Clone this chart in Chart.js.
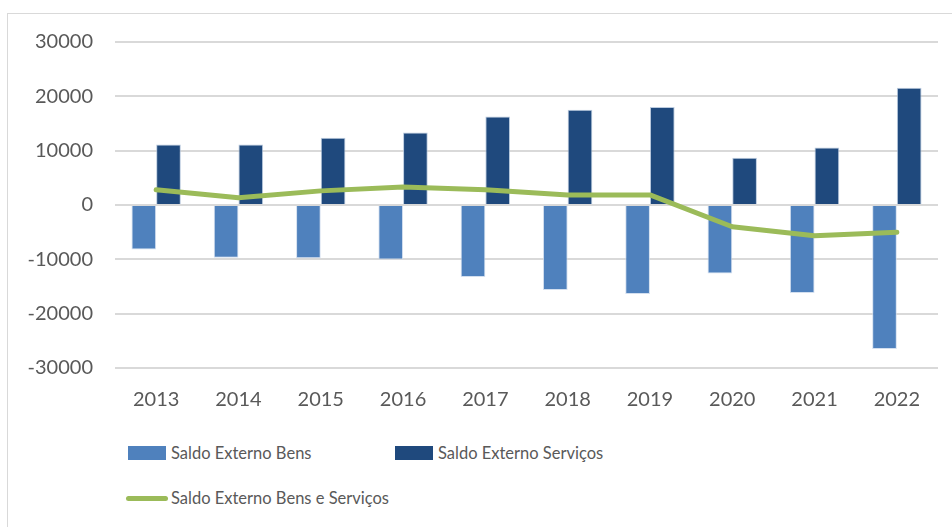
<!DOCTYPE html>
<html>
<head>
<meta charset="utf-8">
<script src="https://cdn.jsdelivr.net/npm/chart.js@4"></script>
<style>
  html, body { margin: 0; padding: 0; background: #fff; overflow: hidden; }
  body { width: 952px; height: 527px; position: relative; font-family: Lato, "Open Sans", sans-serif; }
  .frame {
    position: absolute; left: 7px; top: 13px; width: 960px; height: 530px;
    border: 1px solid #d9d9d9; box-sizing: border-box;
  }
  .chart-box { position: absolute; left: 0; top: 0; width: 952px; height: 430px; }
  .legend { position: absolute; left: 0; top: 430px; width: 952px; color: #595959; font-size: 16.5px; }
  .legend .item { position: absolute; display: flex; align-items: center; white-space: nowrap; height: 24px; }
  .legend .box { width: 38px; height: 14px; margin-right: 5px; }
  .legend .line { width: 42px; height: 5px; border-radius: 3px; margin-right: 3px; }
</style>
</head>
<body>
<div class="frame"></div>
<div class="chart-box"><canvas id="saldoChart" width="952" height="430"></canvas></div>
<div class="legend" id="legend"></div>
<script>
const years = ['2013', '2014', '2015', '2016', '2017', '2018', '2019', '2020', '2021', '2022'];
const saldoBens = [-8200, -9700, -9800, -10050, -13250, -15650, -16400, -12600, -16200, -26500];
const saldoServicos = [11150, 11150, 12400, 13350, 16300, 17550, 18050, 8700, 10600, 21600];
const saldoBensServicos = [2800, 1350, 2600, 3300, 2800, 1850, 1850, -4000, -5650, -5000];
const yTicks = [-30000, -20000, -10000, 0, 10000, 20000, 30000];

const colors = { bens: '#4f81bd', servicos: '#1f497d', total: '#9bbb59' };

const ctx = document.getElementById('saldoChart').getContext('2d');
new Chart(ctx, {
  type: 'bar',
  data: {
    labels: years,
    datasets: [
      {
        type: 'line',
        label: 'Saldo Externo Bens e Serviços',
        data: saldoBensServicos,
        borderColor: colors.total,
        backgroundColor: colors.total,
        borderWidth: 5,
        pointRadius: 0,
        tension: 0,
        borderCapStyle: 'round',
        borderJoinStyle: 'round',
        order: 0
      },
      {
        label: 'Saldo Externo Bens',
        data: saldoBens,
        backgroundColor: colors.bens,
        borderColor: 'rgba(200,215,235,0.8)',
        borderWidth: 1,
        order: 1
      },
      {
        label: 'Saldo Externo Serviços',
        data: saldoServicos,
        backgroundColor: colors.servicos,
        borderColor: 'rgba(170,190,215,0.8)',
        borderWidth: 1,
        order: 1
      }
    ]
  },
  options: {
    responsive: false,
    animation: false,
    maintainAspectRatio: false,
    layout: { padding: { top: 42, right: 14, bottom: 0, left: 0 } },
    datasets: { bar: { categoryPercentage: 0.6, barPercentage: 1.0 } },
    scales: {
      x: {
        grid: { display: false, drawTicks: false },
        border: { display: false },
        ticks: {
          color: '#595959', font: { family: 'Lato', size: 20 }, padding: 20,
          autoSkip: false, maxRotation: 0, minRotation: 0
        },
        afterFit: scale => { scale.height = 62; }
      },
      y: {
        min: -30000,
        max: 30000,
        afterBuildTicks: scale => { scale.ticks = yTicks.map(v => ({ value: v })); },
        grid: { color: '#d9d9d9', lineWidth: 2, drawTicks: false },
        border: { display: false },
        ticks: {
          color: '#595959', font: { family: 'Lato', size: 20 }, padding: 22,
          callback: v => String(v)
        },
        afterFit: scale => { scale.width = 115; }
      }
    },
    plugins: {
      legend: { display: false },
      tooltip: { enabled: false }
    }
  }
});

// legend laid out as in the source: two columns, line series on the second row
const legendItems = [
  { label: 'Saldo Externo Bens', color: colors.bens, kind: 'box', left: 128, top: 11 },
  { label: 'Saldo Externo Serviços', color: colors.servicos, kind: 'box', left: 395, top: 11 },
  { label: 'Saldo Externo Bens e Serviços', color: colors.total, kind: 'line', left: 126, top: 56 }
];
const legendEl = document.getElementById('legend');
legendItems.forEach(item => {
  const div = document.createElement('div');
  div.className = 'item';
  div.style.left = item.left + 'px';
  div.style.top = item.top + 'px';
  div.innerHTML = `<span class="${item.kind}" style="background:${item.color}"></span><span>${item.label}</span>`;
  legendEl.appendChild(div);
});
</script>
</body>
</html>
